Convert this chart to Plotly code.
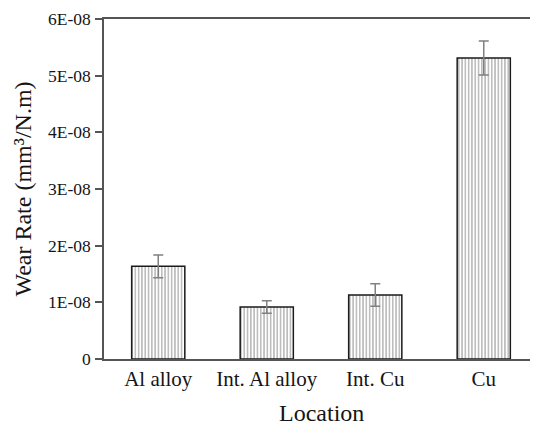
import plotly.graph_objects as go

categories = ["Al alloy", "Int. Al alloy", "Int. Cu", "Cu"]
wear_rate = [1.635e-08, 0.917e-08, 1.13e-08, 5.31e-08]
wear_err = [0.20e-08, 0.11e-08, 0.20e-08, 0.30e-08]
y_tick_vals = [0, 1e-08, 2e-08, 3e-08, 4e-08, 5e-08, 6e-08]
y_tick_text = ["0", "1E-08", "2E-08", "3E-08", "4E-08", "5E-08", "6E-08"]

font_family = "Liberation Serif, Times New Roman, serif"
text_color = "#151515"

fig = go.Figure()
fig.add_trace(go.Bar(
    x=categories,
    y=wear_rate,
    width=0.49,
    marker=dict(
        color="white",
        line=dict(color="#1a1a1a", width=1.5),
        pattern=dict(shape="|", fgcolor="#222222", bgcolor="white", size=3.3, solidity=0.3),
    ),
    error_y=dict(type="data", array=wear_err, visible=True, color="#808080", thickness=1.5, width=5),
))

# page body has an 8px default margin, so the figure is offset by 8px
fig.update_layout(
    width=530,
    height=417,
    margin=dict(l=96, r=0, t=11, b=66, autoexpand=False),
    plot_bgcolor="white",
    paper_bgcolor="white",
    showlegend=False,
    font=dict(family=font_family, color=text_color),
    xaxis=dict(
        range=[-0.5, 3.5],
        automargin=False,
        showline=True,
        linecolor="#555555",
        linewidth=1.5,
        mirror=True,
        ticks="",
        showgrid=False,
        tickfont=dict(size=21, family=font_family, color=text_color),
    ),
    yaxis=dict(
        range=[0, 6e-08],
        automargin=False,
        tickvals=y_tick_vals,
        ticktext=y_tick_text,
        showline=True,
        linecolor="#555555",
        linewidth=1.5,
        ticks="outside",
        ticklen=7,
        tickcolor="#555555",
        tickwidth=1.5,
        ticklabelstandoff=1,
        showgrid=False,
        zeroline=False,
        tickfont=dict(size=17.5, family=font_family, color=text_color),
        title=dict(text="Wear Rate (mm³/N.m)", font=dict(size=24, family=font_family, color=text_color), standoff=10),
    ),
    annotations=[dict(
        text="Location", xref="paper", yref="paper", x=0.5, y=0,
        xanchor="center", yanchor="middle", yshift=-54, showarrow=False,
        font=dict(size=24, family=font_family, color=text_color),
    )],
)

fig.write_html("out.html")
